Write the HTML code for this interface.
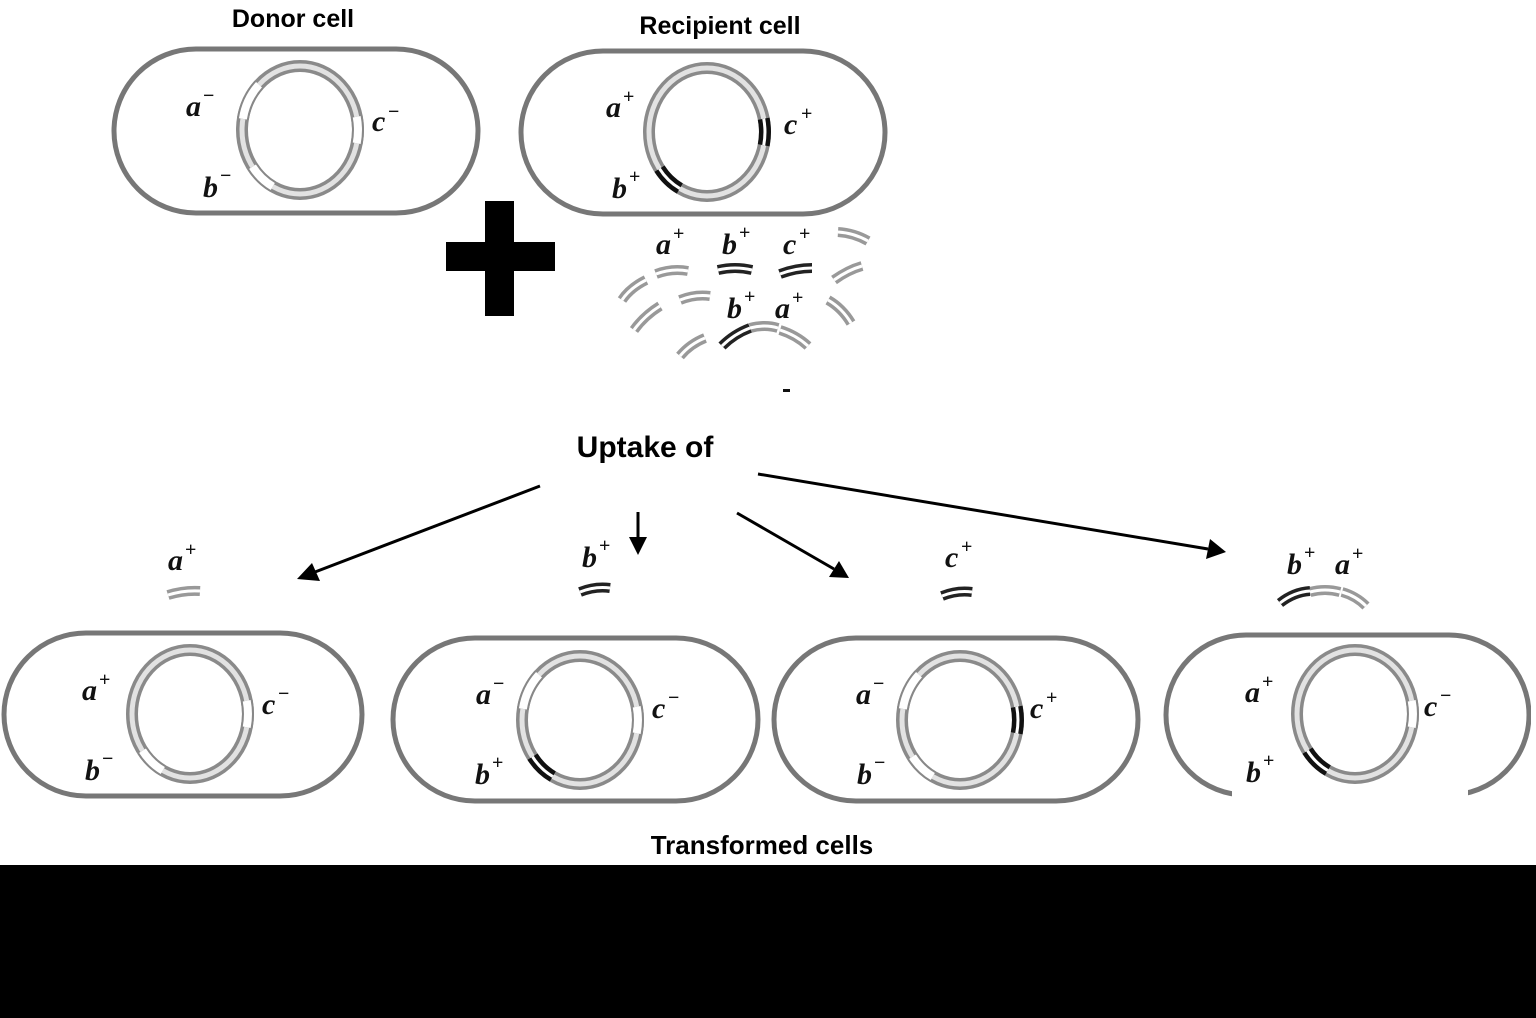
<!DOCTYPE html>
<html><head><meta charset="utf-8"><style>
html,body{margin:0;padding:0;background:#fff;}
svg{display:block;}
.lbl{font-family:"Liberation Serif",serif;font-style:italic;font-weight:bold;font-size:30px;fill:#111;}
.sup{font-family:"Liberation Serif",serif;font-weight:bold;font-size:20px;fill:#111;}
.t{font-family:"Liberation Sans",sans-serif;font-weight:bold;fill:#000;}
</style></head><body>
<svg width="1536" height="1018" viewBox="0 0 1536 1018" xmlns="http://www.w3.org/2000/svg">
<defs>
<g id="ring">
<ellipse cx="0" cy="0" rx="58" ry="64" fill="none" stroke="#8a8a8a" stroke-width="12"/>
<ellipse cx="0" cy="0" rx="58" ry="64" fill="none" stroke="#e2e2e2" stroke-width="5"/>
</g>
<path id="sa" d="M-57.1,-11.1 A58,64 0 0 1 -41,-45.3"/>
<path id="sc" d="M56.7,-13.3 A58,64 0 0 1 56.7,13.3"/>
<path id="sb" d="M-27.2,56.5 A58,64 0 0 1 -47.5,36.7"/>
<marker id="ah" markerWidth="10" markerHeight="10" refX="8" refY="5" orient="auto" markerUnits="userSpaceOnUse" viewBox="0 0 10 10">
</marker>
</defs>

<!-- titles -->
<text x="293" y="27" class="t" font-size="25" text-anchor="middle">Donor cell</text>
<text x="720" y="34" class="t" font-size="25" text-anchor="middle">Recipient cell</text>

<!-- cells -->
<g fill="none" stroke="#777" stroke-width="5">
<rect x="114" y="49" width="364" height="164" rx="82"/>
<rect x="521" y="51" width="364" height="163" rx="82"/>
<rect x="4" y="633" width="358" height="163" rx="82"/>
<rect x="393" y="638" width="365" height="163" rx="82"/>
<rect x="774" y="638" width="364" height="163" rx="82"/>
<rect x="1166" y="635" width="363" height="160" rx="80"/>
</g>
<rect x="1232" y="784" width="236" height="20" fill="#fff"/>
<rect x="1531" y="630" width="5" height="200" fill="#fff"/>

<!-- rings: minus segments white, plus segments black -->
<!-- helper styles via inline -->
<!-- Donor: a- b- c- -->
<g transform="translate(300,130)"><use href="#ring"/>
<use href="#sa" fill="none" stroke="#888" stroke-width="12"/><use href="#sa" fill="none" stroke="#fff" stroke-width="8"/>
<use href="#sb" fill="none" stroke="#888" stroke-width="12"/><use href="#sb" fill="none" stroke="#fff" stroke-width="8"/>
<use href="#sc" fill="none" stroke="#888" stroke-width="12"/><use href="#sc" fill="none" stroke="#fff" stroke-width="8"/>
</g>
<!-- Recipient: a+ b+ c+ -->
<g transform="translate(707,132)"><use href="#ring"/>
<use href="#sb" fill="none" stroke="#111" stroke-width="12"/><use href="#sb" fill="none" stroke="#fff" stroke-width="3"/>
<use href="#sc" fill="none" stroke="#111" stroke-width="12"/><use href="#sc" fill="none" stroke="#fff" stroke-width="3"/>
</g>
<!-- bottom 1: a+ b- c- -->
<g transform="translate(190,714)"><use href="#ring"/>
<use href="#sb" fill="none" stroke="#888" stroke-width="12"/><use href="#sb" fill="none" stroke="#fff" stroke-width="8"/>
<use href="#sc" fill="none" stroke="#888" stroke-width="12"/><use href="#sc" fill="none" stroke="#fff" stroke-width="8"/>
</g>
<!-- bottom 2: a- b+ c- -->
<g transform="translate(580,720)"><use href="#ring"/>
<use href="#sa" fill="none" stroke="#888" stroke-width="12"/><use href="#sa" fill="none" stroke="#fff" stroke-width="8"/>
<use href="#sb" fill="none" stroke="#111" stroke-width="12"/><use href="#sb" fill="none" stroke="#fff" stroke-width="3"/>
<use href="#sc" fill="none" stroke="#888" stroke-width="12"/><use href="#sc" fill="none" stroke="#fff" stroke-width="8"/>
</g>
<!-- bottom 3: a- b- c+ -->
<g transform="translate(960,720)"><use href="#ring"/>
<use href="#sa" fill="none" stroke="#888" stroke-width="12"/><use href="#sa" fill="none" stroke="#fff" stroke-width="8"/>
<use href="#sb" fill="none" stroke="#888" stroke-width="12"/><use href="#sb" fill="none" stroke="#fff" stroke-width="8"/>
<use href="#sc" fill="none" stroke="#111" stroke-width="12"/><use href="#sc" fill="none" stroke="#fff" stroke-width="3"/>
</g>
<!-- bottom 4: a+ b+ c- -->
<g transform="translate(1355,714)"><use href="#ring"/>
<use href="#sb" fill="none" stroke="#111" stroke-width="12"/><use href="#sb" fill="none" stroke="#fff" stroke-width="3"/>
<use href="#sc" fill="none" stroke="#888" stroke-width="12"/><use href="#sc" fill="none" stroke="#fff" stroke-width="8"/>
</g>

<!-- ring labels -->
<g>
<text x="186" y="116" class="lbl">a</text><text x="203" y="102" class="sup">−</text>
<text x="372" y="131" class="lbl">c</text><text x="388" y="118" class="sup">−</text>
<text x="203" y="197" class="lbl">b</text><text x="220" y="182" class="sup">−</text>

<text x="606" y="117" class="lbl">a</text><text x="623" y="103" class="sup">+</text>
<text x="784" y="134" class="lbl">c</text><text x="801" y="120" class="sup">+</text>
<text x="612" y="198" class="lbl">b</text><text x="629" y="183" class="sup">+</text>

<text x="82" y="700" class="lbl">a</text><text x="99" y="686" class="sup">+</text>
<text x="262" y="714" class="lbl">c</text><text x="278" y="700" class="sup">−</text>
<text x="85" y="780" class="lbl">b</text><text x="102" y="765" class="sup">−</text>

<text x="476" y="704" class="lbl">a</text><text x="493" y="690" class="sup">−</text>
<text x="652" y="718" class="lbl">c</text><text x="668" y="704" class="sup">−</text>
<text x="475" y="784" class="lbl">b</text><text x="492" y="769" class="sup">+</text>

<text x="856" y="704" class="lbl">a</text><text x="873" y="690" class="sup">−</text>
<text x="1030" y="718" class="lbl">c</text><text x="1046" y="704" class="sup">+</text>
<text x="857" y="784" class="lbl">b</text><text x="874" y="769" class="sup">−</text>

<text x="1245" y="702" class="lbl">a</text><text x="1262" y="688" class="sup">+</text>
<text x="1424" y="716" class="lbl">c</text><text x="1440" y="702" class="sup">−</text>
<text x="1246" y="782" class="lbl">b</text><text x="1263" y="767" class="sup">+</text>
</g>

<!-- plus sign -->
<rect x="485" y="201" width="29" height="115" fill="#000"/>
<rect x="446" y="242" width="109" height="29" fill="#000"/>

<!-- fragments -->
<g fill="none" stroke-linecap="butt">
<g stroke="#999" stroke-width="10">
<path d="M656,274 Q672,268 688,271"/>
<path d="M838,232 Q854,233 868,241"/>
<path d="M834,280 Q848,270 862,266"/>
<path d="M622,300 Q630,288 646,280"/>
<path d="M680,300 Q695,294 710,296"/>
<path d="M634,330 Q644,316 660,306"/>
<path d="M828,300 Q842,308 851,323"/>
<path d="M680,356 Q690,344 705,338"/>
<path d="M750,328 Q765,324 778,328"/>
<path d="M780,330 Q796,335 808,346"/>
<path d="M168,595 Q184,590 200,591"/>
<path d="M1310,592 Q1325,588 1340,592"/>
<path d="M1342,592 Q1356,596 1366,606"/>
</g>
<g stroke="#222" stroke-width="10">
<path d="M718,270 Q735,266 752,270"/>
<path d="M780,274 Q796,268 812,268"/>
<path d="M722,346 Q734,334 750,328"/>
<path d="M580,592 Q595,586 610,588"/>
<path d="M942,596 Q957,590 972,592"/>
<path d="M1280,603 Q1294,592 1310,591"/>
</g>
<g stroke="#fff" stroke-width="3">
<path d="M656,274 Q672,268 688,271"/>
<path d="M838,232 Q854,233 868,241"/>
<path d="M834,280 Q848,270 862,266"/>
<path d="M622,300 Q630,288 646,280"/>
<path d="M680,300 Q695,294 710,296"/>
<path d="M634,330 Q644,316 660,306"/>
<path d="M828,300 Q842,308 851,323"/>
<path d="M680,356 Q690,344 705,338"/>
<path d="M750,328 Q765,324 778,328"/>
<path d="M780,330 Q796,335 808,346"/>
<path d="M168,595 Q184,590 200,591"/>
<path d="M1310,592 Q1325,588 1340,592"/>
<path d="M1342,592 Q1356,596 1366,606"/>
<path d="M718,270 Q735,266 752,270"/>
<path d="M780,274 Q796,268 812,268"/>
<path d="M722,346 Q734,334 750,328"/>
<path d="M580,592 Q595,586 610,588"/>
<path d="M942,596 Q957,590 972,592"/>
<path d="M1280,603 Q1294,592 1310,591"/>
</g>
</g>
<rect x="783" y="389" width="7" height="3" fill="#111"/>

<!-- fragment labels -->
<text x="656" y="254" class="lbl">a</text><text x="673" y="240" class="sup">+</text>
<text x="722" y="254" class="lbl">b</text><text x="739" y="239" class="sup">+</text>
<text x="783" y="254" class="lbl">c</text><text x="799" y="240" class="sup">+</text>
<text x="727" y="318" class="lbl">b</text><text x="744" y="303" class="sup">+</text>
<text x="775" y="318" class="lbl">a</text><text x="792" y="304" class="sup">+</text>

<text x="168" y="570" class="lbl">a</text><text x="185" y="556" class="sup">+</text>
<text x="582" y="567" class="lbl">b</text><text x="599" y="552" class="sup">+</text>
<text x="945" y="567" class="lbl">c</text><text x="961" y="553" class="sup">+</text>
<text x="1287" y="574" class="lbl">b</text><text x="1304" y="559" class="sup">+</text>
<text x="1335" y="574" class="lbl">a</text><text x="1352" y="560" class="sup">+</text>

<!-- Uptake -->
<text x="645" y="457" class="t" font-size="30" text-anchor="middle">Uptake of</text>

<!-- arrows -->
<g stroke="#000" stroke-width="3" fill="none">
<line x1="540" y1="486" x2="315" y2="572"/>
<line x1="638" y1="512" x2="638" y2="540"/>
<line x1="737" y1="513" x2="834" y2="569"/>
<line x1="758" y1="474" x2="1208" y2="549"/>
</g>
<g fill="#000">
<polygon points="297,579 312,563 320,581"/>
<polygon points="638,555 629,537 647,537"/>
<polygon points="849,578 829,577 839,561"/>
<polygon points="1226,552 1206,559 1210,539"/>
</g>

<text x="762" y="854" class="t" font-size="26" text-anchor="middle">Transformed cells</text>

<rect x="0" y="865" width="1536" height="153" fill="#000"/>
</svg>
</body></html>
